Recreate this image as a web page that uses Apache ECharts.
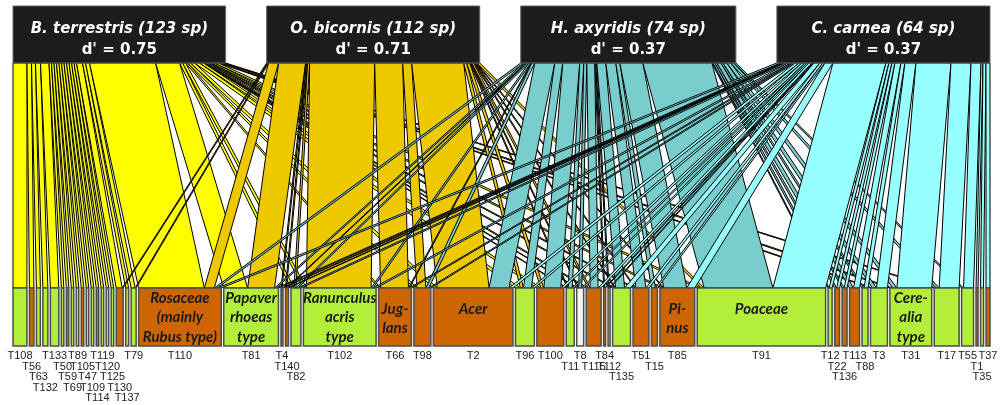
<!DOCTYPE html>
<html>
<head>
<meta charset="utf-8">
<script src="https://cdn.jsdelivr.net/npm/echarts@6/dist/echarts.min.js"></script>
<style>
  html, body { margin: 0; padding: 0; background: #fff; }
  #chart { width: 1000px; height: 405px; }
</style>
</head>
<body>
<div id="chart"></div>
<script>
// upper level: pollinators
var pollinators = ['B. terrestris', 'O. bicornis', 'H. axyridis', 'C. carnea'];
var speciesCount = [123, 112, 74, 64];
var dPrime = ['0.75', '0.71', '0.37', '0.37'];

// lower level: pollen types, left to right
var pollenTypes = [
  'T108', 'T56', 'T63', 'T132', 'T133', 'T50', 'T59', 'T69', 'T89', 'T105', 'T47', 'T109', 'T114', 'T119', 'T120', 'T125', 'T130', 'T137', 'T79',
  'T110', 'T81', 'T4', 'T140', 'T82', 'T102', 'T66', 'T98', 'T2', 'T96', 'T100', 'T11', 'T8', 'T115', 'T84', 'T112', 'T135', 'T51', 'T15', 'T85',
  'T91', 'T12', 'T22', 'T136', 'T113', 'T88', 'T3', 'T31', 'T17', 'T55', 'T1', 'T35', 'T37'
];
// h = herbaceous, w = woody, u = undetermined
var pollenKind = [
  'h', 'w', 'h', 'h', 'h', 'h', 'w', 'h', 'h', 'w', 'h', 'h', 'w', 'h', 'h', 'h', 'w', 'h', 'h',
  'w', 'h', 'w', 'w', 'h', 'h', 'w', 'w', 'w', 'h', 'w', 'h', 'u', 'w', 'w', 'h', 'h', 'w', 'w', 'w',
  'h', 'h', 'w', 'w', 'w', 'h', 'h', 'h', 'h', 'h', 'w', 'h', 'w'
];
var pollenNames = {
  T110: 'Rosaceae\n(mainly\nRubus type)',
  T81: 'Papaver\nrhoeas\ntype',
  T102: 'Ranunculus\nacris\ntype',
  T66: 'Jug-\nlans',
  T2: 'Acer',
  T85: 'Pi-\nnus',
  T91: 'Poaceae',
  T31: 'Cere-\nalia\ntype'
};

// pollen load of each pollinator, per pollen type (same order as pollenTypes)
var loadBt = [
  14, 4.5, 4, 5, 8.5, 2.5, 2.5, 2.5, 2.5, 2.5, 2.5, 2.5, 2.5, 2.5, 2.5, 2.5, 6, 3, 4,
  66, 24, 0, 0, 3, 3, 2, 3, 4, 5, 4, 1, 1, 2, 0, 0, 2, 2, 0, 3,
  4, 0, 0, 0, 0, 0, 2, 3, 2, 0, 0, 0, 0
];
var loadOb = [
  0, 0, 0, 0, 0, 0, 0, 0, 0, 0, 0, 0, 0, 0, 0, 0, 1, 0, 1,
  10, 27, 1, 1, 2, 65, 28, 9, 52, 3, 3, 1, 1, 2, 0, 0, 1, 1, 0, 1,
  3, 0, 0, 0, 0, 0, 0, 0, 0, 0, 0, 0, 0
];
var loadHa = [
  0, 0, 0, 0, 0, 0, 0, 0, 0, 0, 0, 0, 0, 0, 0, 0, 0, 0, 0,
  3, 2, 0, 1, 2, 2, 1, 3, 20, 8, 17, 4, 3, 8, 1, 1, 9, 10, 4, 23,
  69, 1, 2, 2, 4, 2, 4, 4, 3, 2, 0, 0, 0
];
var loadCc = [
  0, 0, 0, 0, 0, 0, 0, 0, 0, 0, 0, 0, 0, 0, 0, 0, 0, 0, 0,
  4, 2, 1, 1, 3, 3, 2, 2, 4, 3, 3, 2, 2, 3, 1, 1, 6, 3, 2, 8,
  53, 3, 3, 3, 6, 4, 11, 35, 20, 10, 2, 3, 4
];

var loads = [loadBt, loadOb, loadHa, loadCc];
var linkColors = ['#FFFF00', '#EEC900', '#79CDCD', '#97FFFF'];
var kindColors = { h: '#B3EE3A', w: '#CD6600', u: '#F4F4EC' };

var W = 1000, H = 405;
var GL = 13, GR = 10, GT = 63, GB = 117;
var plotW = W - GL - GR;
var BOX = 58 / (H - GT - GB);      // box height, in y units
var LOW_GAP = 2.5 / plotW, HIGH_GAP = 41 / plotW;
var LABEL_FONT = '11px "Liberation Sans", Arial, sans-serif';

function sum(a) { return a.reduce(function (s, v) { return s + v; }, 0); }

var nLow = pollenTypes.length, nHigh = pollinators.length;
var lowTot = pollenTypes.map(function (_, i) { return sum(loads.map(function (l) { return l[i]; })); });
var highTot = loads.map(sum);
var grand = sum(highTot);
var lowScale = (1 - (nLow - 1) * LOW_GAP) / grand;
var highScale = (1 - (nHigh - 1) * HIGH_GAP) / grand;

var lowX = [], highX = [], x = 0;
for (var i = 0; i < nLow; i++) { lowX.push(x); x += lowTot[i] * lowScale + LOW_GAP; }
x = 0;
for (var j = 0; j < nHigh; j++) { highX.push(x); x += highTot[j] * highScale + HIGH_GAP; }

// where each link lands on its pollen box (pollinators stacked in order)
var lowStart = [];
for (i = 0; i < nLow; i++) {
  var c = lowX[i];
  lowStart.push(loads.map(function (l) { var s = c; c += l[i] * lowScale; return s; }));
}

var linkData = [];
for (j = 0; j < nHigh; j++) {
  var cur = highX[j];
  for (i = 0; i < nLow; i++) {
    var v = loads[j][i];
    if (!v) continue;
    var b0 = lowStart[i][j];
    linkData.push([cur, cur + v * highScale, b0, b0 + v * lowScale, j]);
    cur += v * highScale;
  }
}

var lowData = pollenTypes.map(function (t, i) { return [lowX[i], lowX[i] + lowTot[i] * lowScale, i]; });
var highData = pollinators.map(function (p, j) { return [highX[j], highX[j] + highTot[j] * highScale, j]; });

// stagger the pollen codes under the boxes when they collide
var ctx = document.createElement('canvas').getContext('2d');
ctx.font = LABEL_FONT;
var labelData = [], lastRight = -1e9, prevRow = 0;
for (i = 0; i < nLow; i++) {
  var cx = lowX[i] + lowTot[i] * lowScale / 2;
  var px = GL + cx * plotW;
  var tw = ctx.measureText(pollenTypes[i]).width;
  var row;
  if (px - tw / 2 < lastRight + 0.5) { row = prevRow + 1; }
  else { row = 0; lastRight = px + tw / 2; }
  prevRow = row;
  labelData.push([cx, row, i]);
}

var chart = echarts.init(document.getElementById('chart'));
chart.setOption({
  animation: false,
  grid: { left: GL, right: GR, top: GT, bottom: GB },
  xAxis: { type: 'value', min: 0, max: 1, show: false },
  yAxis: { type: 'value', min: 0, max: 1, inverse: true, show: false },
  series: [
    {
      type: 'custom',
      data: linkData,
      renderItem: function (params, api) {
        var p1 = api.coord([api.value(0), 0]), p2 = api.coord([api.value(1), 0]);
        var p3 = api.coord([api.value(3), 1]), p4 = api.coord([api.value(2), 1]);
        return {
          type: 'polygon',
          shape: { points: [p1, p2, p3, p4] },
          style: { fill: linkColors[api.value(4)], stroke: '#000', lineWidth: 1 }
        };
      }
    },
    {
      type: 'custom',
      data: lowData,
      renderItem: function (params, api) {
        var idx = api.value(2);
        var a = api.coord([api.value(0), 1]), b = api.coord([api.value(1), 1 + BOX]);
        var kids = [{
          type: 'rect',
          shape: { x: a[0], y: a[1], width: b[0] - a[0], height: b[1] - a[1] },
          style: { fill: kindColors[pollenKind[idx]], stroke: '#4D4D4D', lineWidth: 1.5 }
        }];
        var name = pollenNames[pollenTypes[idx]];
        if (name) {
          var lines = name.split('\n').length;
          kids.push({
            type: 'text',
            style: {
              text: name, x: (a[0] + b[0]) / 2, y: a[1] + (lines === 3 ? 0 : 11),
              align: 'center', verticalAlign: 'top', lineHeight: 19.5,
              font: 'italic bold 15px Lato, sans-serif', fill: '#1A1A1A'
            }
          });
        }
        return { type: 'group', children: kids };
      }
    },
    {
      type: 'custom',
      data: highData,
      renderItem: function (params, api) {
        var idx = api.value(2);
        var a = api.coord([api.value(0), -BOX]), b = api.coord([api.value(1), 0]);
        var mid = (a[0] + b[0]) / 2;
        return {
          type: 'group',
          children: [
            {
              type: 'rect',
              shape: { x: a[0], y: a[1] + 1, width: b[0] - a[0], height: b[1] - a[1] - 1 },
              style: { fill: '#1C1C1C', stroke: '#666', lineWidth: 1 }
            },
            {
              type: 'text',
              style: {
                text: pollinators[idx] + ' (' + speciesCount[idx] + ' sp)', x: mid, y: a[1] + 24,
                align: 'center', verticalAlign: 'middle',
                font: 'italic bold 15px "DejaVu Sans", sans-serif', fill: '#fff'
              }
            },
            {
              type: 'text',
              style: {
                text: "d' = " + dPrime[idx], x: mid, y: a[1] + 45,
                align: 'center', verticalAlign: 'middle',
                font: 'bold 15px "DejaVu Sans", sans-serif', fill: '#fff'
              }
            }
          ]
        };
      }
    },
    {
      type: 'custom',
      data: labelData,
      renderItem: function (params, api) {
        var p = api.coord([api.value(0), 1 + BOX]);
        return {
          type: 'text',
          style: {
            text: pollenTypes[api.value(2)], x: p[0], y: p[1] + 10 + api.value(1) * 10.5,
            align: 'center', verticalAlign: 'middle', font: LABEL_FONT, fill: '#222'
          }
        };
      }
    }
  ]
});
</script>
</body>
</html>
